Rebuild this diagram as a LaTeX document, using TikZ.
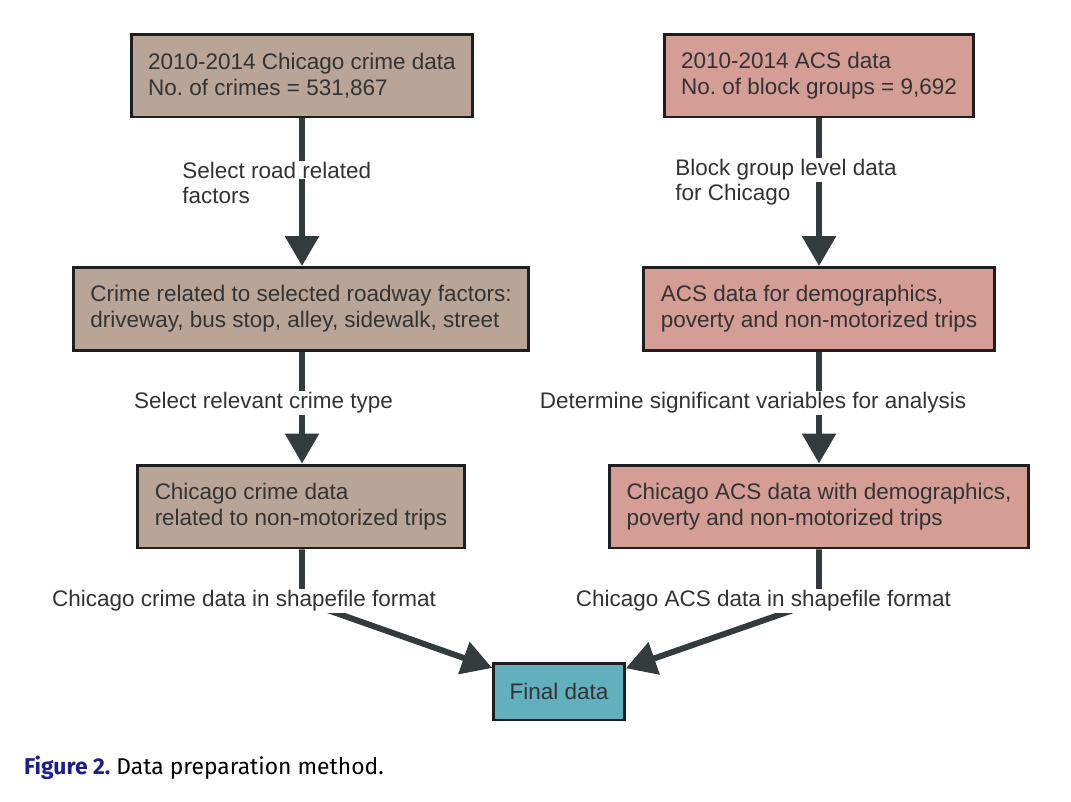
\documentclass[tikz,border=0pt]{standalone}
\usepackage{fontspec}
\setmainfont{Liberation Sans}
\newfontfamily\captionfont{Fira Sans}
\usepackage{xcolor}
\usetikzlibrary{arrows.meta,backgrounds}
\definecolor{crimefill}{HTML}{B9A597}
\definecolor{acsfill}{HTML}{D49D96}
\definecolor{finalfill}{HTML}{62B0BE}
\definecolor{boxline}{HTML}{1E1E1E}
\definecolor{flowgray}{HTML}{333B3D}
\definecolor{textgray}{HTML}{333333}
\definecolor{capblue}{HTML}{1C1C8A}
\frenchspacing
\tikzset{
  crimebox/.style={draw=boxline, line width=1.7pt, fill=crimefill, align=left, inner xsep=0.34cm, minimum height=1.66cm, text=textgray},
  acsbox/.style={draw=boxline, line width=1.7pt, fill=acsfill, align=left, inner xsep=0.34cm, minimum height=1.66cm, text=textgray},
  finalbox/.style={draw=boxline, line width=1.7pt, fill=finalfill, align=center, inner xsep=0.32cm, minimum height=1.14cm, text=textgray},
  steplabel/.style={fill=white, align=left, inner sep=0.6pt, text=textgray},
  nextline/.style={steplabel, fill=none, anchor=base west, yshift=-0.5cm},
  flow/.style={-{Triangle[length=0.6cm, width=0.66cm]}, line width=3.4pt, draw=flowgray}
}
\begin{document}
\begin{tikzpicture}[x=0.02cm, y=-0.02cm, font=\fontsize{12.8}{14.8}\selectfont]
  \useasboundingbox (0,0) rectangle (1071,801);

  % left column: crime data
  \node[crimebox] (crimeraw) at (302,75.5) {2010-2014 Chicago crime data\\No. of crimes = 531,867};
  \node[crimebox] (crimeroad) at (301,309) {Crime related to selected roadway factors:\\driveway, bus stop, alley, sidewalk, street};
  \node[crimebox] (crimetrips) at (301,506.5) {Chicago crime data\\related to non-motorized trips};

  % right column: ACS data
  \node[acsbox] (acsraw) at (819,75.5) {2010-2014 ACS data\\No. of block groups = 9,692};
  \node[acsbox] (acsdemo) at (819,309) {ACS data for demographics,\\poverty and non-motorized trips};
  \node[acsbox] (acssig) at (819,506.5) {Chicago ACS data with demographics,\\poverty and non-motorized trips};

  \node[finalbox] (final) at (559,691.5) {Final data};

  % step labels
  \node[steplabel, anchor=west] (selroad) at (181,170) {Select road related};
  \node[nextline] (selroadb) at (selroad.base west) {factors};
  \node[steplabel, anchor=west] (selblock) at (674,170) {Block group level data};
  \node[nextline] (selblockb) at (selblock.base west) {for Chicago};
  \node[steplabel] (selcrime) at (263.5,403) {Select relevant crime type};
  \node[steplabel] (selvars) at (753,403) {Determine significant variables for analysis};
  \node[steplabel] (crimeshp) at (244,601) {Chicago crime data in shapefile format};
  \node[steplabel] (acsshp) at (763.5,601) {Chicago ACS data in shapefile format};

  \begin{scope}[on background layer]
    \draw[flow] (crimeraw.south) -- (crimeraw.south |- crimeroad.north);
    \draw[flow] (crimeroad.south -| crimeraw.south) -- (crimeraw.south |- crimetrips.north);
    \draw[flow] (acsraw.south) -- (acsraw.south |- acsdemo.north);
    \draw[flow] (acsdemo.south -| acsraw.south) -- (acsraw.south |- acssig.north);
    \draw[flow] (crimetrips.south -| crimeraw.south) -- (crimeraw.south |- crimeshp) -- (final);
    \draw[flow] (acssig.south -| acsraw.south) -- (acsraw.south |- acsshp) -- (final);
  \end{scope}

  \node[anchor=west, font=\captionfont\fontsize{13}{15}\selectfont] (caption) at (18,768)
    {\textcolor{capblue}{\bfseries Figure 2.} Data preparation method.};
\end{tikzpicture}
\end{document}
